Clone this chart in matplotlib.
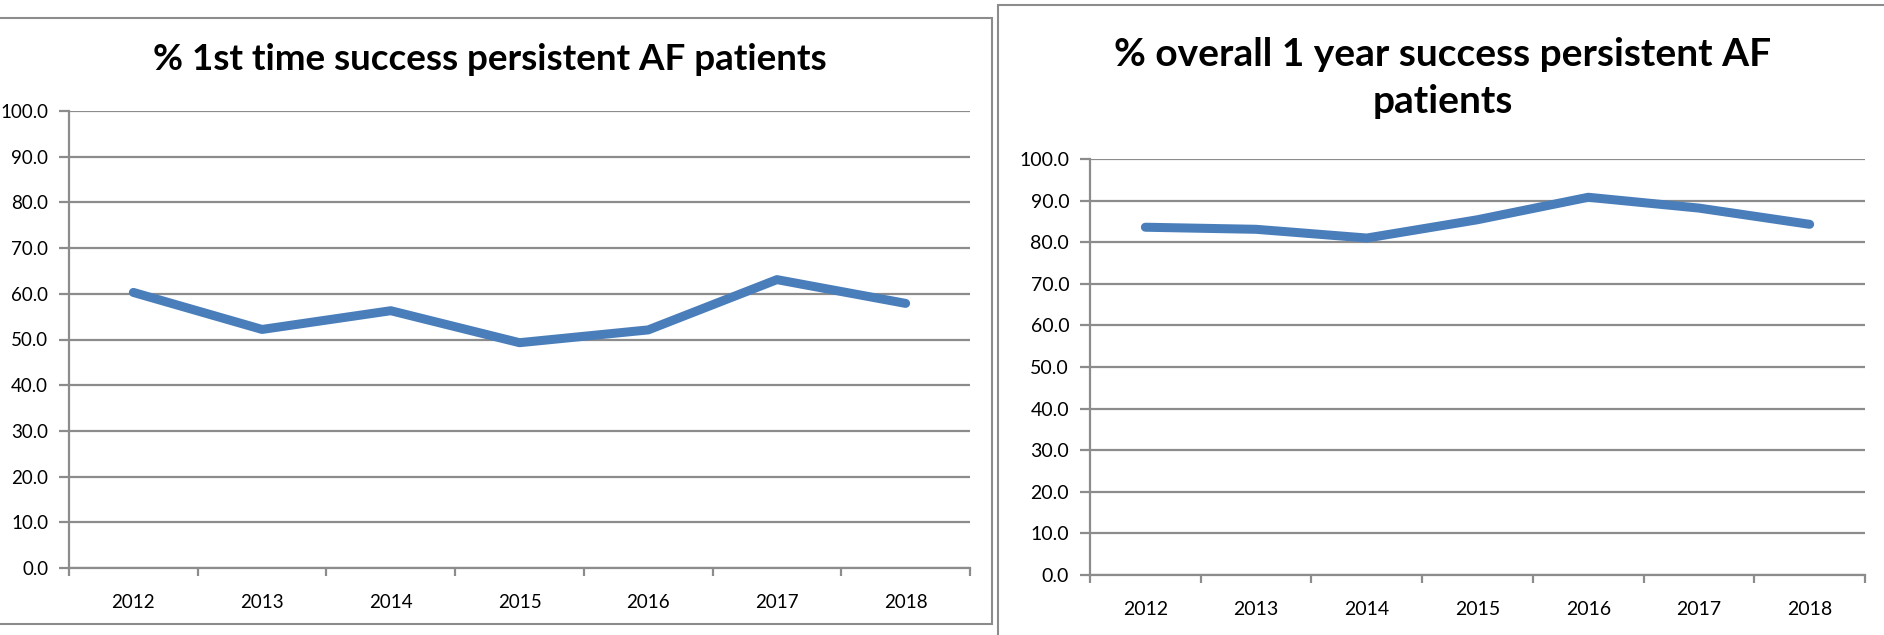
import matplotlib
matplotlib.use("Agg")
import matplotlib.pyplot as plt
from matplotlib.patches import Rectangle
import numpy as np

years = ["2012", "2013", "2014", "2015", "2016", "2017", "2018"]
first_time = [60.3, 52.2, 56.3, 49.3, 52.1, 63.1, 57.9]
one_year = [83.6, 83.1, 81.0, 85.4, 90.8, 88.2, 84.3]
titles = ["% 1st time success persistent AF patients",
          "% overall 1 year success persistent AF\npatients"]
yticks = np.arange(0, 101, 10)

W, H = 1884, 635
fig = plt.figure(figsize=(W / 100, H / 100), dpi=100)
plt.rcParams['font.family'] = ['Lato', 'DejaVu Sans']

# panel borders (pixels)
def border(x0, y0, x1, y1):
    fig.patches.append(Rectangle((x0 / W, 1 - y1 / H), (x1 - x0) / W, (y1 - y0) / H,
                                 transform=fig.transFigure, fill=False,
                                 edgecolor="#8c8c8c", linewidth=1.5))

border(-10, 18, 992, 624)
border(998, 5, 1900, 660)

GRID = "#8c8c8c"
LINE = "#4a7ebb"

def make(ax_box, vals, title, title_xy, tick_fs, title_fs):
    x0, y_top, x1, y_bot = ax_box
    ax = fig.add_axes([x0 / W, 1 - y_bot / H, (x1 - x0) / W, (y_bot - y_top) / H])
    xs = np.arange(len(vals))
    ax.plot(xs, vals, color=LINE, linewidth=6.5, solid_capstyle="round",
            solid_joinstyle="round", zorder=3)
    ax.set_xlim(-0.5, len(vals) - 0.5)
    ax.set_ylim(0, 100)
    ax.set_yticks(yticks)
    ax.set_yticklabels([f"{v:.1f}" for v in yticks], fontsize=tick_fs)
    ax.yaxis.grid(True, color=GRID, linewidth=1.6)
    ax.set_axisbelow(True)
    ax.set_xticks(np.arange(-0.5, len(vals), 1.0))
    ax.set_xticklabels([])
    ax.set_xticks(xs, minor=True)
    ax.set_xticklabels(years, minor=True, fontsize=tick_fs)
    ax.tick_params(axis="x", which="major", length=6, width=1.6, color=GRID, direction="out")
    ax.tick_params(axis="x", which="minor", length=0, pad=19)
    ax.tick_params(axis="y", length=7, width=1.6, color=GRID, pad=8)
    for s in ["top", "right"]:
        ax.spines[s].set_visible(False)
    for s in ["left", "bottom"]:
        ax.spines[s].set_color(GRID)
        ax.spines[s].set_linewidth(1.6)
    tx, ty = title_xy
    fig.text(tx / W, 1 - ty / H, title, ha="center", va="center",
             fontsize=title_fs, fontweight="bold", linespacing=1.4)
    return ax

make((69, 111, 970, 568), first_time, titles[0], (490, 59), 13.5, 26.5)
make((1090, 159, 1865, 575), one_year, titles[1], (1443, 78), 14, 28)

fig.savefig("out.png", dpi=100, facecolor="white")
